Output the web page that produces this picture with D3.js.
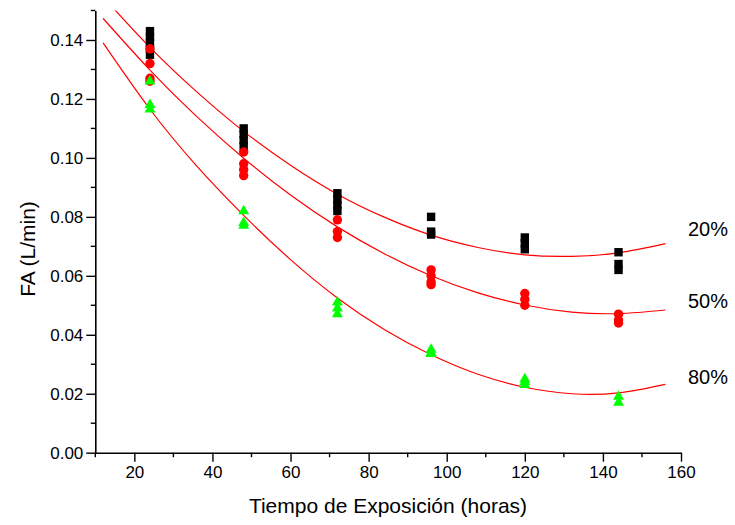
<!DOCTYPE html>
<html><head><meta charset="utf-8">
<script src="https://cdn.jsdelivr.net/npm/d3@7"></script>
<style>body{margin:0;background:#fff;} svg{display:block;font-family:"Liberation Sans",Arial,sans-serif;}</style>
</head><body><svg id="c" width="735" height="525"></svg>
<script>
// ---- data ----
const hours = [24, 48, 72, 96, 120, 144];
const fa20 = [[0.143,0.141,0.139,0.137,0.135],[0.110,0.108,0.106,0.104],[0.088,0.086,0.084,0.082],[0.080,0.075,0.074],[0.073,0.071,0.069],[0.068,0.064,0.062]];
const fa50 = [[0.137,0.132,0.127,0.126],[0.102,0.098,0.096,0.094],[0.079,0.075,0.073],[0.062,0.060,0.058,0.057],[0.054,0.052,0.050],[0.047,0.045,0.044]];
const fa80 = [[0.126,0.118,0.1165],[0.082,0.078,0.077],[0.051,0.049,0.047],[0.035,0.034,0.0335],[0.025,0.024,0.023],[0.019,0.017]];
const fitX  = [12,24,36,48,60,72,84,96,108,120,132,144,156];
const fit20 = [0.1546,0.1375,0.1224,0.1090,0.0975,0.0877,0.0799,0.0738,0.0696,0.0671,0.0666,0.0678,0.0709];
const fit50 = [0.1473,0.1298,0.1140,0.0999,0.0874,0.0766,0.0675,0.0600,0.0542,0.0501,0.0477,0.0472,0.0484];
const fit80 = [0.1390,0.1165,0.0972,0.0805,0.0655,0.0525,0.0418,0.0332,0.0266,0.0222,0.0200,0.0203,0.0232];
const seriesLabels = ["20%","50%","80%"];
const xTicks = [20,40,60,80,100,120,140,160];
const xMinor = [10,30,50,70,90,110,130,150];
const yTicks = [0,0.02,0.04,0.06,0.08,0.10,0.12,0.14];
const yMinor = [0.01,0.03,0.05,0.07,0.09,0.11,0.13,0.15];
const xTitle = "Tiempo de Exposición (horas)";
const yTitle = "FA (L/min)";

const svg = d3.select("#c");
const X0 = 95.3, X1 = 681, Y0 = 452.7, Y1 = 10.5;
const x = d3.scaleLinear().domain([10,160]).range([X0,X1]);
const y = d3.scaleLinear().domain([0,0.15]).range([Y0,Y1]);

svg.append("defs").append("clipPath").attr("id","clip")
  .append("rect").attr("x",X0).attr("y",Y1).attr("width",X1-X0).attr("height",Y0-Y1);

// fitted curves
const line = d3.line().x((d,i)=>x(fitX[i])).y(d=>y(d)).curve(d3.curveNatural);
[fit20,fit50,fit80].forEach(f=>{
  svg.append("path").attr("d",line(f)).attr("fill","none").attr("stroke","#ff0000")
    .attr("stroke-width",1.2).attr("clip-path","url(#clip)");
});

// points
const flat = arr => arr.flatMap((vals,i)=>vals.map(v=>({h:hours[i],v})));
svg.append("g").selectAll("rect").data(flat(fa20)).join("rect")
  .attr("x",d=>x(d.h)-4.2).attr("y",d=>y(d.v)-4.2).attr("width",8.4).attr("height",8.4).attr("fill","#000");
svg.append("g").selectAll("circle").data(flat(fa50)).join("circle")
  .attr("cx",d=>x(d.h)).attr("cy",d=>y(d.v)).attr("r",4.7).attr("fill","#ff0000");
const tri = d3.symbol().type(d3.symbolTriangle).size(52);
svg.append("g").selectAll("path").data(flat(fa80)).join("path")
  .attr("d",tri).attr("transform",d=>`translate(${x(d.h)},${y(d.v)})`).attr("fill","#00ff00");

// axes
const xa = svg.append("g").attr("transform",`translate(0,${Y0})`);
xa.call(d3.axisBottom(x).tickValues(xTicks).tickSize(9).tickSizeOuter(0).tickPadding(4).tickFormat(d3.format("d")));
xa.append("g").selectAll("line").data(xMinor).join("line")
  .attr("x1",d=>x(d)).attr("x2",d=>x(d)).attr("y1",0).attr("y2",4.5).attr("stroke","#000").attr("stroke-width",1.4);
const ya = svg.append("g").attr("transform",`translate(${X0},0)`);
ya.call(d3.axisLeft(y).tickValues(yTicks).tickSize(9).tickSizeOuter(0).tickPadding(3).tickFormat(d3.format(".2f")));
ya.append("g").selectAll("line").data(yMinor).join("line")
  .attr("y1",d=>y(d)).attr("y2",d=>y(d)).attr("x1",0).attr("x2",-4.5).attr("stroke","#000").attr("stroke-width",1.4);
svg.selectAll(".domain").attr("stroke","#000").attr("stroke-width",1.6);
svg.selectAll(".tick line").attr("stroke","#000").attr("stroke-width",1.4);
svg.selectAll(".tick text").attr("font-size",17).attr("fill","#000").attr("font-family","Liberation Sans, Arial, sans-serif");

// titles
svg.append("text").attr("x",388).attr("y",513).attr("text-anchor","middle").attr("font-size",21).text(xTitle);
svg.append("text").attr("transform","translate(35,249) rotate(-90)").attr("text-anchor","middle").attr("font-size",21).text(yTitle);

// series labels
const labelY = [236,308,384];
seriesLabels.forEach((t,i)=>svg.append("text").attr("x",688).attr("y",labelY[i]).attr("font-size",20).text(t));
</script></body></html>
